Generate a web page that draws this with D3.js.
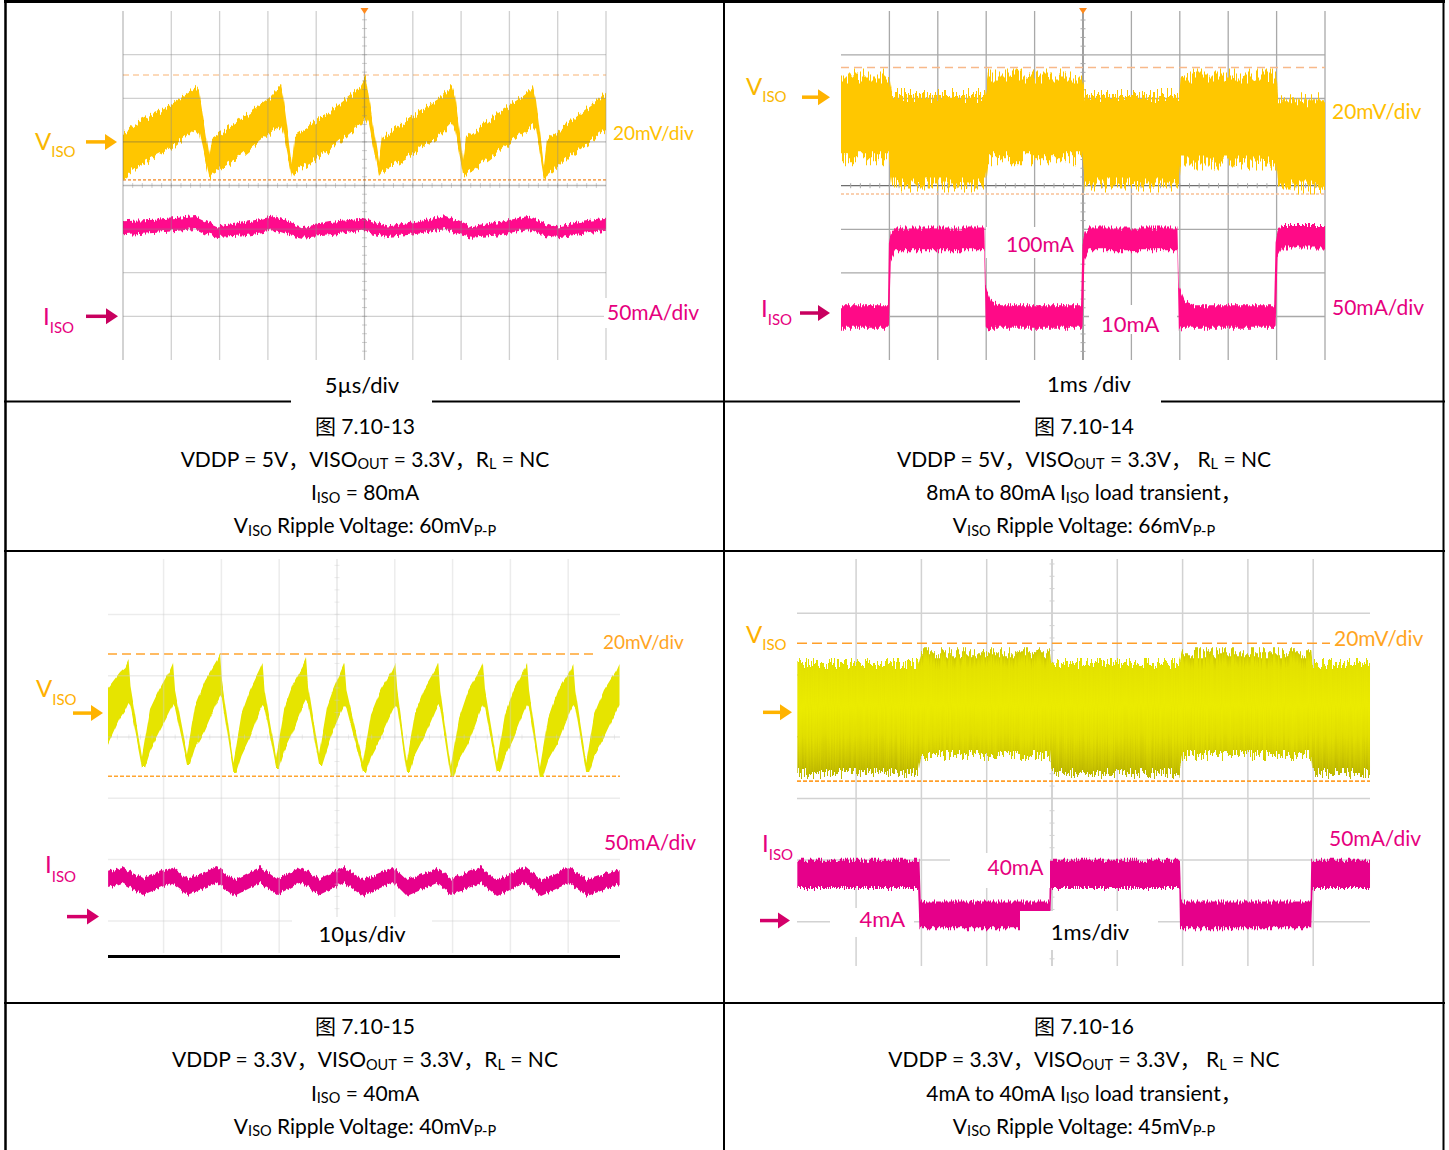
<!DOCTYPE html>
<html>
<head>
<meta charset="utf-8">
<script src="https://cdn.jsdelivr.net/npm/d3@7"></script>
<style>
  body { margin: 0; background: #fff; }
  svg { display: block; }
  text { font-family: Lato, "Noto Sans CJK SC", sans-serif; white-space: pre; }
</style>
</head>
<body>
<svg id="page" width="1449" height="1150"></svg>
<script>
// valeurs relevees sur les captures d'oscilloscope
// un point = [temps, bord haut, bord bas] de la bande de trace
// tension en mV par rapport a la fleche VISO, courant en mA par rapport a la fleche IISO

// fig 7.10-13 : 5us/div
const f13Tension = [
  [0, 4.1, -16.1], [1.24, 8.3, -11.9], [4.45, 15.6, -4.6], [7.56, 24.8, 6.4], [7.87, 22.9, 4.6], [8.9, -6.0, -16.5],
  [9.21, 1.8, -14.7], [12.11, 10.1, -6.9], [15.22, 20.6, 4.1], [16.36, 25.7, 7.8], [16.56, 21.6, 5.5], [17.49, -9.2, -15.6],
  [17.81, 3.2, -13.8], [21.43, 13.8, -3.7], [24.53, 24.8, 7.8], [25.16, 29.8, 11.0], [25.47, 20.2, 7.8], [26.5, -9.2, -15.6],
  [26.81, 1.8, -13.8], [29.71, 11.0, -6.0], [32.82, 20.2, 2.8], [34.06, 25.7, 8.3], [34.37, 21.6, 5.5], [35.2, -8.3, -14.7],
  [35.51, 1.8, -15.1], [39.03, 13.8, -3.7], [41.61, 21.6, 4.6], [42.44, 25.2, 7.3], [42.75, 19.3, 5.5], [43.58, -10.6, -17.0],
  [43.89, 0.9, -15.6], [46.79, 11.0, -4.6], [50, 22.5, 5.5]
];
const f13Courant = [
  [0, 109, 93], [3.8, 111, 96], [7.5, 115, 100], [8.5, 110, 95], [9.8, 103, 91], [12.6, 108, 93],
  [15.7, 115, 99], [17.3, 108, 93], [18.5, 102, 90], [21.4, 108, 93], [24.7, 112, 98], [26.1, 108, 94],
  [27.4, 103, 91], [30.2, 108, 94], [33.4, 115, 100], [34.9, 108, 93], [36.1, 102, 90], [39.0, 108, 93],
  [41.9, 115, 100], [43.2, 108, 93], [44.7, 102, 90], [47.3, 108, 94], [50, 112, 98]
];
const f13Curseurs = [30.7, -17.4];

// fig 7.10-14 : 1ms/div
const f14Tension = [
  [0, 10, -28], [0.99, 10, -28], [1.05, 1, -40], [2.98, 1, -40], [3.04, 10, -28], [4.98, 10, -28],
  [5.04, 1, -40], [6.98, 1, -40], [7.02, 10, -30], [8.99, 10, -30], [9.03, -1, -41], [10, -1, -41]
];
const f14Courant = [
  [0, 9, -17], [0.97, 9, -17], [0.99, 80, -17], [1.03, 92, 62], [1.12, 98, 72], [2.96, 98, 72],
  [2.99, 30, -18], [3.1, 14, -17], [3.3, 9, -17], [4.96, 9, -17], [4.99, 80, -17], [5.03, 92, 62],
  [5.12, 98, 72], [6.95, 98, 72], [6.98, 30, -18], [7.1, 14, -17], [7.3, 9, -17], [8.95, 9, -17],
  [8.98, 82, -17], [9.02, 94, 64], [9.12, 101, 75], [10, 101, 75]
];
const f14Curseurs = [13.6, -44.4];

// fig 7.10-15 : 10us/div
const f15Tension = [
  [10.38, 8.16, -10.44], [12.46, 13.38, -1.63], [13.41, 15.01, 0.98], [13.93, 17.29, 3.26], [14.27, 8.48, 2.28], [16.26, -14.36, -17.62],
  [16.78, -8.48, -17.62], [17.65, 1.31, -12.40], [19.20, 7.50, -6.53], [21.11, 14.03, 0.65], [21.63, 16.32, 2.61], [21.97, 7.50, 1.63], [24.05, -13.38, -16.64],
  [24.57, -7.50, -16.64], [25.43, 2.28, -11.42], [27.16, 10.44, -5.55], [29.24, 16.97, 3.59], [29.76, 19.25, 5.55], [30.10, 10.44, 4.57], [32.09, -15.99, -19.25],
  [32.61, -10.12, -19.25], [33.48, -0.33, -14.03], [34.95, 7.50, -8.16], [36.61, 14.03, 0.65], [37.13, 16.32, 2.61], [37.47, 7.50, 1.63], [39.45, -14.36, -17.62],
  [39.97, -8.48, -17.62], [40.83, 1.31, -12.40], [42.30, 9.14, -6.53], [44.12, 15.66, 2.28], [44.64, 17.95, 4.24], [44.98, 9.14, 3.26], [46.89, -13.70, -16.97],
  [47.40, -7.83, -16.97], [48.27, 1.96, -11.75], [49.31, 7.50, -5.87], [50.76, 14.03, 0.65], [51.28, 16.32, 2.61], [51.63, 7.50, 1.63], [54.50, -15.99, -19.25],
  [55.02, -10.12, -19.25], [55.88, -0.33, -14.03], [57.53, 7.50, -8.16], [59.57, 14.03, 0.65], [60.09, 16.32, 2.61], [60.43, 7.50, 1.63], [62.08, -15.99, -19.25],
  [62.60, -10.12, -19.25], [63.46, -0.33, -14.03], [65.05, 7.50, -8.16], [67.01, 14.03, 0.65], [67.53, 16.32, 2.61], [67.87, 7.50, 1.63], [69.69, -17.62, -20.88],
  [70.21, -11.75, -20.88], [71.07, -1.96, -15.66], [72.75, 7.50, -9.79], [74.74, 14.03, 0.65], [75.26, 16.32, 2.61], [75.61, 7.50, 1.63], [77.68, -15.99, -19.25],
  [78.20, -10.12, -19.25], [79.07, -0.33, -14.03], [80.54, 7.50, -8.16], [82.35, 14.03, 0.65], [82.87, 16.32, 2.61], [83.22, 7.50, 1.63], [85.12, -17.62, -20.88],
  [85.64, -11.75, -20.88], [86.51, -1.96, -15.66], [88.24, 7.50, -9.79], [90.36, 14.03, 0.65], [90.88, 16.32, 2.61], [91.23, 7.50, 1.63], [93.11, -15.99, -19.25],
  [93.63, -10.12, -19.25], [94.50, -0.33, -14.03], [96.19, 7.50, -8.16], [98.36, 14.03, 0.65], [98.88, 16.32, 2.61]
];
const f15Courant = [
  [10.4, 36.5, 23.4], [12.8, 40.5, 27.5], [16.4, 30.8, 17.7], [21.3, 40.5, 27.5], [24.1, 30.8, 17.7],
  [29.2, 40.5, 27.5], [32.2, 29.9, 16.9], [36.7, 40.5, 27.5], [39.6, 30.8, 17.7], [43.8, 40.5, 28.3],
  [46.9, 30.8, 17.7], [51.2, 40.5, 27.5], [54.5, 29.9, 16.9], [59.7, 40.5, 28.3], [62.1, 29.9, 16.9],
  [67.3, 39.7, 27.5], [69.7, 30.8, 17.7], [74.9, 40.5, 27.5], [77.7, 29.9, 16.9], [82.5, 40.5, 27.5],
  [85.3, 29.9, 16.9], [90.1, 40.5, 27.5], [93.3, 29.9, 16.9], [98.9, 38.9, 26.7]
];
const f15Curseurs = [19.3, -20.6];

// fig 7.10-16 : 1ms/div
const f16Tension = [
  [1.1, 16.0, -19.7], [2.95, 16.0, -19.7], [2.99, 19.5, -13.8], [4.97, 19.5, -13.8], [4.99, 16.0, -19.7],
  [6.95, 16.0, -19.7], [6.99, 19.5, -13.8], [8.97, 19.5, -13.8], [8.99, 16.0, -19.7], [9.87, 16.0, -19.7]
];
const f16Courant = [
  [1.1, 49.2, 26.3], [2.95, 49.2, 26.3], [2.97, 49.2, -6.2], [2.99, 15.4, -6.2], [4.96, 15.4, -6.2],
  [4.97, 49.2, -6.2], [4.99, 49.2, 26.3], [6.95, 49.2, 26.3], [6.96, 49.2, -6.2], [6.98, 15.4, -6.2],
  [8.96, 15.4, -6.2], [8.97, 49.2, -6.2], [8.99, 49.2, 26.3], [9.87, 49.2, 26.3]
];
const f16Curseurs = [22.4, -22.3];

// legendes sous les captures (tableau = indice)
const legende13 = [
  ["图 7.10-13"],
  ["VDDP = 5V，VISO", ["OUT"], " = 3.3V，R", ["L"], " = NC"],
  ["I", ["ISO"], " = 80mA"],
  ["V", ["ISO"], " Ripple Voltage: 60mV", ["P-P"]]
];
const legende14 = [
  ["图 7.10-14"],
  ["VDDP = 5V，VISO", ["OUT"], " = 3.3V， R", ["L"], " = NC"],
  ["8mA to 80mA I", ["ISO"], " load transient，"],
  ["V", ["ISO"], " Ripple Voltage: 66mV", ["P-P"]]
];
const legende15 = [
  ["图 7.10-15"],
  ["VDDP = 3.3V，VISO", ["OUT"], " = 3.3V，R", ["L"], " = NC"],
  ["I", ["ISO"], " = 40mA"],
  ["V", ["ISO"], " Ripple Voltage: 40mV", ["P-P"]]
];
const legende16 = [
  ["图 7.10-16"],
  ["VDDP = 3.3V，VISO", ["OUT"], " = 3.3V， R", ["L"], " = NC"],
  ["4mA to 40mA I", ["ISO"], " load transient，"],
  ["V", ["ISO"], " Ripple Voltage: 45mV", ["P-P"]]
];

const svg = d3.select("#page");
const defs = svg.append("defs");

// bruit de l'oscillo : decalage vertical colonne par colonne
function filtreBruit(id, echelle, freq, graine)
{
  const f = defs.append("filter").attr("id", id)
    .attr("filterUnits", "userSpaceOnUse")
    .attr("x", 0).attr("y", 0).attr("width", 1449).attr("height", 1150)
    .attr("color-interpolation-filters", "sRGB");
  f.append("feTurbulence").attr("type", "fractalNoise")
    .attr("baseFrequency", freq + " 0.01").attr("numOctaves", 2)
    .attr("seed", graine).attr("result", "n");
  f.append("feColorMatrix").attr("in", "n").attr("type", "matrix")
    .attr("values", "2.6 0 0 0 -0.8  0 0 0 0 0.5  0 0 0 0 0.5  0 0 0 0 1")
    .attr("result", "m");
  f.append("feDisplacementMap").attr("in", "SourceGraphic").attr("in2", "m")
    .attr("scale", echelle).attr("xChannelSelector", "G").attr("yChannelSelector", "R");
}
filtreBruit("b13v", 7, 0.5, 3);
filtreBruit("b13i", 4, 0.6, 7);
filtreBruit("b14v", 15, 0.7, 11);
filtreBruit("b14i", 5, 0.7, 5);
filtreBruit("b15v", 3, 0.3, 9);
filtreBruit("b15i", 3.5, 0.5, 2);
filtreBruit("b16v", 11, 0.7, 13);
filtreBruit("b16i", 5, 0.7, 17);

const deg = defs.append("linearGradient").attr("id", "jaune16")
  .attr("x1", 0).attr("y1", 0).attr("x2", 0).attr("y2", 1);
[[0, "#cfca00"], [0.1, "#e3e100"], [0.45, "#ebeb00"], [0.7, "#e1de00"], [0.86, "#d0cb00"], [1, "#bdb700"]]
  .forEach(s => deg.append("stop").attr("offset", s[0]).attr("stop-color", s[1]));

// cadre du tableau
[[4, 1.5, 1445, 1.5, 3], [4, 401.5, 1445, 401.5, 2], [4, 551, 1445, 551, 2], [4, 1003, 1445, 1003, 2],
 [5.5, 0, 5.5, 1150, 2.5], [724, 0, 724, 1150, 2], [1443.5, 0, 1443.5, 1150, 2]].forEach(l => {
  svg.append("line").attr("x1", l[0]).attr("y1", l[1]).attr("x2", l[2]).attr("y2", l[3])
    .attr("stroke", "#000").attr("stroke-width", l[4]);
});

function ecrire(g, x, y, morceaux, taille, coul, ancre, tailleSub, dSub)
{
  const t = g.append("text").attr("x", x).attr("y", y)
    .attr("font-size", taille).attr("fill", coul).attr("text-anchor", ancre || "start");
  let bas = false;
  morceaux.forEach(m => {
    const sub = Array.isArray(m);
    const s = t.append("tspan").text(sub ? m[0] : m);
    if (sub) s.attr("font-size", tailleSub);
    if (sub !== bas) s.attr("dy", sub ? dSub : -dSub);
    bas = sub;
  });
}

function fleche(g, x0, x1, y, coul)
{
  g.append("line").attr("x1", x0).attr("x2", x1 - 9).attr("y1", y).attr("y2", y)
    .attr("stroke", coul).attr("stroke-width", 3.5);
  g.append("path").attr("d", `M${x1},${y} L${x1 - 12},${y - 8} L${x1 - 12},${y + 8} Z`).attr("fill", coul);
}

function grille(g, p, x, y, opa)
{
  const gg = g.append("g").attr("stroke-opacity", opa);
  const tC = (p.tDom[0] + p.tDom[1]) / 2;
  const tx = x.ticks(10).filter(t => x(t) >= p.clip[0] - 1 && x(t) <= p.clip[1] + 1 && !p.vSauter.includes(t));
  gg.selectAll(null).data(tx).join("line")
    .attr("x1", d => x(d)).attr("x2", d => x(d)).attr("y1", p.yHaut).attr("y2", p.yBas)
    .attr("stroke", d => (d === tC || d === p.tDom[0]) ? p.grilleCentre : p.grille)
    .attr("stroke-width", p.epGrille);
  gg.selectAll(null).data(p.hDivs).join("line")
    .attr("x1", p.clip[0]).attr("x2", p.clip[1]).attr("y1", d => y(d)).attr("y2", d => y(d))
    .attr("stroke", d => (d === 0 || d === p.vZero) ? p.grilleCentre : p.grille)
    .attr("stroke-width", p.epGrille);
  // graduations des axes centraux
  const gy = d3.range(-4, 4.01, 0.2).filter(d => y(d) > p.yHaut + 2 && y(d) < p.yBas - 2);
  gg.selectAll(null).data(gy).join("line")
    .attr("x1", x(tC) - 2.5).attr("x2", x(tC) + 2.5).attr("y1", d => y(d)).attr("y2", d => y(d))
    .attr("stroke", p.grille).attr("stroke-width", 1);
  const pas = (p.tDom[1] - p.tDom[0]) / 50;
  const gx = d3.range(p.tDom[0], p.tDom[1] + pas / 2, pas).filter(t => x(t) > p.clip[0] + 2 && x(t) < p.clip[1] - 2);
  gg.selectAll(null).data(gx).join("line")
    .attr("x1", d => x(d)).attr("x2", d => x(d)).attr("y1", y(0) - 2.5).attr("y2", y(0) + 2.5)
    .attr("stroke", p.grille).attr("stroke-width", 1);
}

function dessinePanneau(p)
{
  const g = svg.append("g");
  const x = d3.scaleLinear().domain(p.tDom).range(p.xPx);
  const yDiv = d3.scaleLinear().domain([-4, 4]).range([p.yCentre + 4 * p.pxDiv, p.yCentre - 4 * p.pxDiv]);
  const yV = d3.scaleLinear().domain([(-4 - p.vZero) * p.mvDiv, (4 - p.vZero) * p.mvDiv]).range(yDiv.range());
  const yI = d3.scaleLinear().domain([(-4 - p.iZero) * p.maDiv, (4 - p.iZero) * p.maDiv]).range(yDiv.range());

  if (!p.grilleDessus) grille(g, p, x, yDiv, 1);

  // curseurs pointilles
  p.curseurs.forEach((c, k) => {
    g.append("line").attr("x1", p.clip[0]).attr("x2", p.clip[1]).attr("y1", yV(c)).attr("y2", yV(c))
      .attr("stroke", p.curseurCoul[k]).attr("stroke-width", 1.6).attr("stroke-dasharray", p.curseurDash[k]);
  });

  const bande = ys => d3.area().x(d => x(d[0])).y1(d => ys(d[1])).y0(d => ys(d[2]));
  g.append("path").datum(p.tension).attr("d", bande(yV)).attr("fill", p.jaune).attr("filter", `url(#${p.bruitV})`);
  g.append("path").datum(p.courant).attr("d", bande(yI)).attr("fill", p.rose).attr("filter", `url(#${p.bruitI})`);

  if (p.grilleDessus) grille(g, p, x, yDiv, 0.4);

  // marque de declenchement
  if (p.declencheur) {
    const xc = x((p.tDom[0] + p.tDom[1]) / 2);
    g.append("path").attr("d", `M${xc - 4},${p.yHaut - 3} L${xc + 4},${p.yHaut - 3} L${xc},${p.yHaut + 3} Z`).attr("fill", "#ff8a1c");
  }

  p.etiquettes.filter(e => e.fond).forEach(e => {
    g.append("rect").attr("x", e.fond[0]).attr("y", e.fond[1]).attr("width", e.fond[2]).attr("height", e.fond[3]).attr("fill", "#fff");
  });
  if (p.traitBas) {
    g.append("line").attr("x1", p.clip[0]).attr("x2", p.clip[1]).attr("y1", p.traitBas).attr("y2", p.traitBas)
      .attr("stroke", "#000").attr("stroke-width", 3);
  }
  p.etiquettes.forEach(e => ecrire(g, e.x, e.y, e.txt, e.taille, e.coul, e.ancre, 15, e.dSub || 7));

  fleche(g, p.flecheV[0], p.flecheV[1], yV(0), p.coulFlecheV);
  fleche(g, p.flecheI[0], p.flecheI[1], yI(0), p.coulFlecheI);

  // legende
  p.legende.forEach((l, k) => ecrire(svg, p.legX, p.legY + k * 33.3, l, 21, "#000", "middle", 14.5, 2.5));
}

const ROSE = "#e6007e";

dessinePanneau({
  tension: f13Tension, courant: f13Courant, curseurs: f13Curseurs, legende: legende13,
  tDom: [0, 50], xPx: [123, 606], clip: [123, 606], vSauter: [],
  yCentre: 185.5, pxDiv: 43.6, yHaut: 11, yBas: 360, hDivs: [3, 2, 1, 0, -1, -2, -3],
  vZero: 1, iZero: -3, mvDiv: 20, maDiv: 50,
  grille: "#8a8a8a", grilleCentre: "#555", epGrille: 1.3, grilleDessus: true,
  jaune: "#ffc600", rose: "#ff0a8c", bruitV: "b13v", bruitI: "b13i",
  curseurCoul: ["#fbcda3", "#f5a75c"], curseurDash: ["6,4", "3,2"],
  declencheur: true,
  flecheV: [86, 117], flecheI: [86, 118], coulFlecheV: "#ffb300", coulFlecheI: "#c8005f",
  legX: 365, legY: 433.5,
  etiquettes: [
    { txt: ["V", ["ISO"]], x: 35, y: 150, taille: 24, coul: "#f9b700" },
    { txt: ["I", ["ISO"]], x: 43, y: 325, taille: 24, coul: ROSE, dSub: 8 },
    { txt: ["20mV/div"], x: 613, y: 140, taille: 19, coul: "#ffc000" },
    { txt: ["50mA/div"], x: 607, y: 320, taille: 21, coul: ROSE, fond: [604, 298, 98, 30] },
    { txt: ["5µs/div"], x: 362, y: 393, taille: 22, coul: "#000", ancre: "middle", fond: [291, 368, 141, 36] }
  ]
});

dessinePanneau({
  tension: f14Tension, courant: f14Courant, curseurs: f14Curseurs, legende: legende14,
  tDom: [0, 10], xPx: [841, 1325], clip: [841, 1325], vSauter: [0],
  yCentre: 185.7, pxDiv: 43.6, yHaut: 11, yBas: 360, hDivs: [3, 2, 1, 0, -1, -2, -3],
  vZero: 2.03, iZero: -2.92, mvDiv: 20, maDiv: 50,
  grille: "#a9a9a9", grilleCentre: "#6e6e6e", epGrille: 1.3, grilleDessus: false,
  jaune: "#ffc700", rose: "#ff0a87", bruitV: "b14v", bruitI: "b14i",
  curseurCoul: ["#f8b98a", "#f9c196"], curseurDash: ["8,5", "3,2"],
  declencheur: true,
  flecheV: [802, 830], flecheI: [800, 830], coulFlecheV: "#ffb300", coulFlecheI: "#c8005f",
  legX: 1084, legY: 433.5,
  etiquettes: [
    { txt: ["V", ["ISO"]], x: 746, y: 95, taille: 24, coul: "#f9b700" },
    { txt: ["I", ["ISO"]], x: 761, y: 317, taille: 24, coul: ROSE, dSub: 8 },
    { txt: ["20mV/div"], x: 1332, y: 119, taille: 21, coul: "#ffc000" },
    { txt: ["50mA/div"], x: 1332, y: 315, taille: 21, coul: ROSE },
    { txt: ["100mA"], x: 1006, y: 252, taille: 21, coul: ROSE, fond: [986, 227, 96, 31] },
    { txt: ["10mA"], x: 1101, y: 332, taille: 22, coul: ROSE, fond: [1089, 305, 88, 29] },
    { txt: ["1ms /div"], x: 1089, y: 392, taille: 22, coul: "#000", ancre: "middle", fond: [1020, 368, 141, 36] }
  ]
});

dessinePanneau({
  tension: f15Tension, courant: f15Courant, curseurs: f15Curseurs, legende: legende15,
  tDom: [0, 100], xPx: [48, 626], clip: [108, 620], vSauter: [],
  yCentre: 737, pxDiv: 61.3, yHaut: 559, yBas: 953, hDivs: [2, 1, 0, -1, -2, -3],
  vZero: 0.39, iZero: -2.93, mvDiv: 20, maDiv: 50,
  grille: "#cfcfcf", grilleCentre: "#c4c4c4", epGrille: 1.5, grilleDessus: true,
  jaune: "#e6e400", rose: "#e6008a", bruitV: "b15v", bruitI: "b15i",
  curseurCoul: ["#ffa530", "#ffa530"], curseurDash: ["9,5", "4,2"],
  declencheur: false, traitBas: 956.5,
  flecheV: [73, 103], flecheI: [67, 99], coulFlecheV: "#ffb300", coulFlecheI: "#d4006a",
  legX: 365, legY: 1034,
  etiquettes: [
    { txt: ["V", ["ISO"]], x: 36, y: 697, taille: 24, coul: "#ffb000", dSub: 8 },
    { txt: ["I", ["ISO"]], x: 45, y: 873, taille: 24, coul: ROSE, dSub: 9 },
    { txt: ["20mV/div"], x: 603, y: 649, taille: 19, coul: "#ffa51f", fond: [598, 630, 94, 26] },
    { txt: ["50mA/div"], x: 604, y: 850, taille: 21, coul: ROSE },
    { txt: ["10µs/div"], x: 362, y: 942, taille: 22, coul: "#000", ancre: "middle", fond: [292, 917, 140, 37] }
  ]
});

dessinePanneau({
  tension: f16Tension, courant: f16Courant, curseurs: f16Curseurs, legende: legende16,
  tDom: [0, 10], xPx: [725.5, 1378.5], clip: [797, 1370], vSauter: [],
  yCentre: 736.7, pxDiv: 61.7, yHaut: 559, yBas: 966, hDivs: [2, 1, 0, -1, -2, -3],
  vZero: 0.395, iZero: -2.98, mvDiv: 20, maDiv: 50,
  grille: "#d2d2d2", grilleCentre: "#c4c4c4", epGrille: 1.5, grilleDessus: false,
  jaune: "url(#jaune16)", rose: "#e6008a", bruitV: "b16v", bruitI: "b16i",
  curseurCoul: ["#ff9f2a", "#ff9f2a"], curseurDash: ["10,5", "4,2"],
  declencheur: false,
  flecheV: [763, 792], flecheI: [760, 790], coulFlecheV: "#ffb300", coulFlecheI: "#d4006a",
  legX: 1084, legY: 1034,
  etiquettes: [
    { txt: ["V", ["ISO"]], x: 746, y: 643, taille: 24, coul: "#ffb000" },
    { txt: ["I", ["ISO"]], x: 762, y: 852, taille: 24, coul: ROSE, dSub: 8 },
    { txt: ["20mV/div"], x: 1334, y: 646, taille: 21, coul: "#ffa51f", fond: [1330, 624, 102, 28] },
    { txt: ["50mA/div"], x: 1329, y: 846, taille: 21, coul: ROSE },
    { txt: ["40mA"], x: 987.5, y: 875, taille: 21, coul: ROSE, fond: [950, 853, 100, 35] },
    { txt: ["4mA"], x: 859.5, y: 927, taille: 22, coul: ROSE, fond: [830, 908, 84, 29] },
    { txt: ["1ms/div"], x: 1090, y: 940, taille: 22, coul: "#000", ancre: "middle", fond: [1020, 911, 138, 39] }
  ]
});
</script>
</body>
</html>
